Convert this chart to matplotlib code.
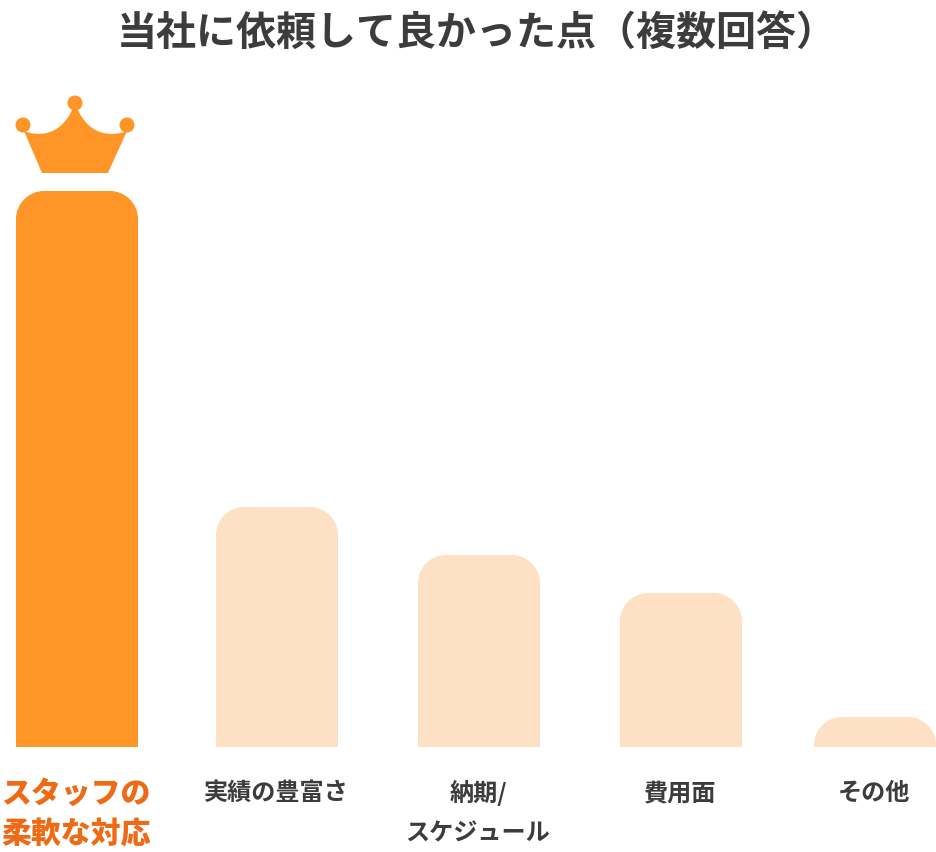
import matplotlib
matplotlib.use("Agg")
import matplotlib.pyplot as plt
from matplotlib.patches import Circle, PathPatch
from matplotlib.path import Path

plt.rcParams['font.family'] = ['Noto Sans CJK JP', 'DejaVu Sans']

title = "当社に依頼して良かった点（複数回答）"
labels = ["スタッフの\n柔軟な対応", "実績の豊富さ", "納期/\nスケジュール", "費用面", "その他"]
values = [556, 240, 192, 154, 30]
centers = [77, 277, 479, 681, 875]
bar_colors = ["#ff9526", "#fee1c5", "#fee1c5", "#fee1c5", "#fee1c5"]
label_colors = ["#ee6a14", "#3c3c3c", "#3c3c3c", "#3c3c3c", "#3c3c3c"]
label_weights = ["black", "bold", "bold", "bold", "bold"]
label_sizes = [21.5, 17.4, 17.4, 17.4, 17.4]

W, H = 936, 853
base = 747
bar_w = 122
rad = 28
k = 0.45  # bezier handle for the round corners

fig = plt.figure(figsize=(W / 100, H / 100), dpi=100)
ax = fig.add_axes([0, 0, 1, 1])
ax.set_xlim(0, W)
ax.set_ylim(H - 1, -1)
ax.axis("off")

for c, v, col in zip(centers, values, bar_colors):
    r = min(rad, v)
    x0 = c - bar_w / 2
    x1 = x0 + bar_w
    top = base - v
    # rounded top only, square bottom
    verts = [(x0, base), (x0, top + r),
             (x0, top + r * k), (x0 + r * k, top), (x0 + r, top),
             (x1 - r, top),
             (x1 - r * k, top), (x1, top + r * k), (x1, top + r),
             (x1, base), (x0, base)]
    codes = [Path.MOVETO, Path.LINETO,
             Path.CURVE4, Path.CURVE4, Path.CURVE4,
             Path.LINETO,
             Path.CURVE4, Path.CURVE4, Path.CURVE4,
             Path.LINETO, Path.CLOSEPOLY]
    ax.add_patch(PathPatch(Path(verts, codes), fc=col, ec="none"))

# crown
crown = [(42, 173), (108, 173), (127, 131),
         (114, 136), (90, 138), (77, 108),
         (75, 106), (75, 106), (73, 108),
         (60, 138), (36, 136), (24, 131),
         (42, 173)]
crown_codes = [Path.MOVETO, Path.LINETO, Path.LINETO,
               Path.CURVE4, Path.CURVE4, Path.CURVE4,
               Path.CURVE4, Path.CURVE4, Path.CURVE4,
               Path.CURVE4, Path.CURVE4, Path.CURVE4,
               Path.CLOSEPOLY]
ax.add_patch(PathPatch(Path(crown, crown_codes), fc=bar_colors[0], ec="none"))
for p in [(23, 125), (75, 103), (127, 125)]:
    ax.add_patch(Circle(p, 7.5, fc=bar_colors[0], ec="none"))

ax.text(477, 32, title, ha="center", va="center", fontsize=28.8, fontweight="bold", color="#3c3c3c")

for i, (c, lab) in enumerate(zip(centers, labels)):
    x = 76 if i == 0 else c - 1
    for j, part in enumerate(lab.split("\n")):
        ax.text(x, 792 + j * 41, part, ha="center", va="center",
                fontsize=label_sizes[i], fontweight=label_weights[i], color=label_colors[i])

fig.savefig("out.png", dpi=100)
